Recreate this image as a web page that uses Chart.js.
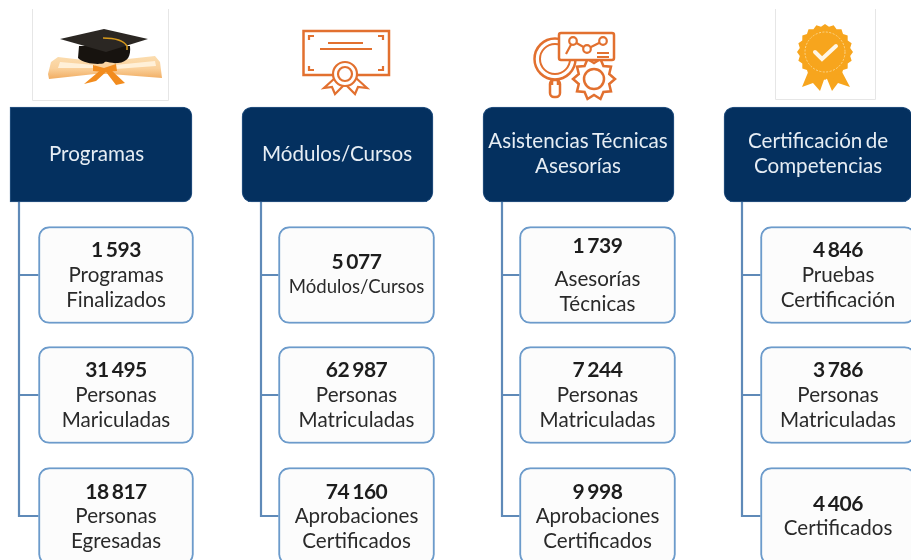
<!DOCTYPE html>
<html>
<head>
<meta charset="utf-8">
<title>Programas y certificaciones</title>
<script src="https://cdn.jsdelivr.net/npm/chart.js@4"></script>
<style>
    html, body { margin: 0; padding: 0; background: #ffffff; }
    #wrap { width: 911px; height: 560px; overflow: hidden; }
    #board { filter: blur(0.4px); }
</style>
</head>
<body>
<div id="wrap"><canvas id="board" width="911" height="560"></canvas></div>
<script>
// Chart data
const categories = [
    ['Programas'],
    ['Módulos/Cursos'],
    ['Asistencias Técnicas', 'Asesorías'],
    ['Certificación de', 'Competencias']
];
const programasValues = [1593, 31495, 18817];
const modulosValues = [5077, 62987, 74160];
const asistenciasValues = [1739, 7244, 9998];
const certificacionValues = [4846, 3786, 4406];
const programasLabels = [['Programas', 'Finalizados'], ['Personas', 'Mariculadas'], ['Personas', 'Egresadas']];
const modulosLabels = [['Módulos/Cursos'], ['Personas', 'Matriculadas'], ['Aprobaciones', 'Certificados']];
const asistenciasLabels = [['Asesorías', 'Técnicas'], ['Personas', 'Matriculadas'], ['Aprobaciones', 'Certificados']];
const certificacionLabels = [['Pruebas', 'Certificación'], ['Personas', 'Matriculadas'], ['Certificados']];

const allValues = [programasValues, modulosValues, asistenciasValues, certificacionValues];
const allLabels = [programasLabels, modulosLabels, asistenciasLabels, certificacionLabels];

// Layout of the board, in axis units (the axes run 0-911 and 0-560)
const columns = [
    { left: 10, right: 192, textX: 96.5, cardLeft: 38.5, cardRight: 193.5, trunk: 19 },
    { left: 242, right: 433, textX: 337, cardLeft: 278.5, cardRight: 434.5, trunk: 261 },
    { left: 483, right: 674, textX: 578, cardLeft: 519.5, cardRight: 675.5, trunk: 502 },
    { left: 724, right: 912, textX: 818, cardLeft: 760.5, cardRight: 915.5, trunk: 742 }
];
const headerTop = 107;
const headerBottom = 202;
const cardRows = [[226.5, 323.5], [346.5, 443.5], [467.5, 565]];

const FONT = 'Lato, "Open Sans", sans-serif';
const NAVY = '#04305f';
const CARD_BORDER = '#6c9bcb';
const TRUNK = '#5f8ab8';
const ORANGE = '#e2702f';
const AMBER = '#f7a51d';

function formatNumber(n) {
    return String(n).replace(/\B(?=(\d{3})+$)/g, ' ');
}

// Connector: trunk with one branch per card
function connectorPoints(col) {
    const pts = [{ x: col.trunk, y: headerBottom }];
    cardRows.forEach(r => {
        const mid = Math.round((r[0] + r[1]) / 2);
        pts.push({ x: col.trunk, y: mid }, { x: col.cardLeft, y: mid }, { x: col.trunk, y: mid });
    });
    return pts;
}

const datasets = [];
columns.forEach((col, i) => {
    datasets.push({
        type: 'line',
        data: connectorPoints(col),
        borderColor: TRUNK,
        borderWidth: 2.2,
        borderJoinStyle: 'miter',
        pointRadius: 0,
        tension: 0,
        fill: false,
        order: 3
    });
    datasets.push({
        type: 'bar',
        role: 'header',
        column: i,
        data: [{ x: (col.left + col.right) / 2, y: [headerTop, headerBottom] }],
        barThickness: col.right - col.left,
        backgroundColor: NAVY,
        borderColor: '#2b5685',
        borderWidth: 1,
        borderSkipped: false,
        borderRadius: i === 0 ? { topLeft: 0, bottomLeft: 0, topRight: 9, bottomRight: 9 } : 10,
        grouped: false,
        order: 2
    });
    datasets.push({
        type: 'bar',
        role: 'cards',
        column: i,
        data: cardRows.map(r => ({ x: (col.cardLeft + col.cardRight) / 2, y: r })),
        barThickness: col.cardRight - col.cardLeft,
        backgroundColor: '#fcfcfc',
        borderColor: CARD_BORDER,
        borderWidth: 2,
        borderSkipped: false,
        borderRadius: 11,
        grouped: false,
        order: 1
    });
});

// Writes header and card text on top of the bars
const boardText = {
    id: 'boardText',
    afterDatasetsDraw(chart) {
        const ctx = chart.ctx;
        const yScale = chart.scales.y;
        const xScale = chart.scales.x;
        ctx.save();
        ctx.textAlign = 'center';
        ctx.textBaseline = 'middle';
        chart.data.datasets.forEach((ds, d) => {
            if (ds.role === 'header') {
                const lines = categories[ds.column];
                const cy = yScale.getPixelForValue(154);
                const cx = xScale.getPixelForValue(columns[ds.column].textX);
                ctx.fillStyle = '#e6edf4';
                ctx.font = '20.6px ' + FONT;
                ctx.wordSpacing = '-2px';
                lines.forEach((line, n) => {
                    ctx.fillText(line, cx, cy + (n - (lines.length - 1) / 2) * 25);
                });
                ctx.wordSpacing = '0px';
            }
            if (ds.role === 'cards') {
                chart.getDatasetMeta(d).data.forEach((bar, j) => {
                    const cy = (bar.y + bar.base) / 2;
                    const lines = allLabels[ds.column][j];
                    // the first Asesorías card sits a bit lower than the others
                    const spaced = ds.column === 2 && j === 0;
                    const numberY = spaced ? cy - 29 : (lines.length === 1 ? cy - 12.5 : cy - 24.5);
                    ctx.fillStyle = '#1d1d1d';
                    ctx.font = 'bold 21px ' + FONT;
                    ctx.letterSpacing = '-0.5px';
                    ctx.wordSpacing = '-1.5px';
                    ctx.fillText(formatNumber(allValues[ds.column][j]), bar.x, numberY);
                    ctx.letterSpacing = '0px';
                    ctx.wordSpacing = '0px';
                    ctx.fillStyle = '#2a2a2a';
                    lines.forEach((line, n) => {
                        const y = spaced ? cy + 4 + n * 25 : (lines.length === 1 ? cy + 12 : cy + n * 25);
                        // this longer label is set narrower in the original
                        ctx.font = (line === 'Módulos/Cursos' ? '18.6px ' : '20.6px ') + FONT;
                        ctx.fillText(line, bar.x, y);
                    });
                });
            }
        });
        ctx.restore();
    }
};

// Icons above the headers
function frame(ctx, l, t, r, b) {
    ctx.strokeStyle = '#e6e6e6';
    ctx.lineWidth = 1;
    ctx.beginPath();
    ctx.moveTo(l, t);
    ctx.lineTo(l, b);
    ctx.lineTo(r, b);
    ctx.lineTo(r, t);
    ctx.stroke();
}

function poly(ctx, pts) {
    ctx.beginPath();
    pts.forEach((p, i) => (i ? ctx.lineTo(p[0], p[1]) : ctx.moveTo(p[0], p[1])));
    ctx.closePath();
}

function drawHat(ctx) {
    frame(ctx, 32.5, 9, 168.5, 100.5);
    // scroll
    const g = ctx.createLinearGradient(0, 57, 0, 80);
    g.addColorStop(0, '#fbdcae');
    g.addColorStop(0.5, '#fad09a');
    g.addColorStop(1, '#f0a95c');
    ctx.fillStyle = g;
    poly(ctx, [[58, 57], [100, 62], [155, 56], [160, 62], [162, 78], [110, 74], [95, 74], [49, 79], [48, 74], [51, 62]]);
    ctx.fill();
    ctx.fillStyle = '#fff0d8';
    poly(ctx, [[60, 62], [95, 65], [95, 68], [58, 68]]);
    ctx.fill();
    poly(ctx, [[115, 65], [155, 61], [156, 66], [115, 69]]);
    ctx.fill();
    // ribbon
    ctx.fillStyle = '#f28c1e';
    poly(ctx, [[103, 68], [84, 84], [96, 81], [106, 72], [116, 85], [125, 83], [109, 68]]);
    ctx.fill();
    poly(ctx, [[93, 65], [104, 68], [116, 64], [117, 71], [104, 72], [93, 71]]);
    ctx.fill();
    // cap body
    ctx.fillStyle = '#17130f';
    ctx.beginPath();
    ctx.moveTo(79, 46);
    ctx.lineTo(130, 46);
    ctx.bezierCurveTo(131, 56, 128, 62, 118, 63);
    ctx.bezierCurveTo(110, 64, 106, 60, 104, 63);
    ctx.bezierCurveTo(100, 65, 84, 64, 78, 58);
    ctx.closePath();
    ctx.fill();
    // mortarboard
    ctx.fillStyle = '#2b2723';
    poly(ctx, [[60, 39], [104, 29], [148, 39], [106, 52]]);
    ctx.fill();
    // tassel
    ctx.strokeStyle = '#d79a1c';
    ctx.lineWidth = 1.5;
    ctx.beginPath();
    ctx.moveTo(103, 38);
    ctx.quadraticCurveTo(122, 38, 127, 46);
    ctx.lineTo(127, 50);
    ctx.stroke();
}

function drawCertificate(ctx) {
    ctx.strokeStyle = ORANGE;
    ctx.lineWidth = 2.5;
    ctx.strokeRect(303.5, 31, 85.5, 44);
    ctx.lineWidth = 2.2;
    [[328, 363, 43], [320, 372, 49]].forEach(l => {
        ctx.beginPath();
        ctx.moveTo(l[0], l[2]);
        ctx.lineTo(l[1], l[2]);
        ctx.stroke();
    });
    // corner marks
    [[309, 40, 1, -1], [383, 40, -1, -1], [309, 66, 1, 1], [383, 66, -1, 1]].forEach(c => {
        ctx.beginPath();
        ctx.moveTo(c[0] + c[2] * 5, c[1] + c[3] * 4);
        ctx.lineTo(c[0], c[1] + c[3] * 4);
        ctx.lineTo(c[0], c[1]);
        ctx.stroke();
    });
    // ribbons and seal
    ctx.fillStyle = '#ffffff';
    poly(ctx, [[335, 78], [324, 88], [332, 87], [335, 94], [345, 84], [355, 94], [358, 87], [367, 88], [356, 78]]);
    ctx.fill();
    ctx.stroke();
    ctx.beginPath();
    ctx.arc(345, 74, 12, 0, Math.PI * 2);
    ctx.fill();
    ctx.stroke();
    ctx.beginPath();
    ctx.arc(345, 74, 7, 0, Math.PI * 2);
    ctx.stroke();
}

function drawAnalysis(ctx) {
    ctx.strokeStyle = ORANGE;
    ctx.fillStyle = '#ffffff';
    ctx.lineWidth = 2.5;
    // magnifier
    ctx.beginPath();
    ctx.arc(555, 59, 20.5, 0, Math.PI * 2);
    ctx.stroke();
    ctx.lineWidth = 2;
    ctx.beginPath();
    ctx.arc(555, 59, 15, 0, Math.PI * 2);
    ctx.stroke();
    ctx.lineWidth = 2.5;
    ctx.beginPath();
    ctx.roundRect(550, 80, 10, 17, 4);
    ctx.stroke();
    ctx.beginPath();
    ctx.moveTo(552, 79);
    ctx.lineTo(552, 85);
    ctx.moveTo(558, 79);
    ctx.lineTo(558, 85);
    ctx.stroke();
    // gear
    ctx.beginPath();
    for (let t = 0; t < 20; t++) {
        const a = t * Math.PI / 10;
        const r = t % 2 ? 16 : 21;
        ctx.lineTo(594 + Math.cos(a) * r, 79 + Math.sin(a) * r);
    }
    ctx.closePath();
    ctx.fill();
    ctx.stroke();
    ctx.beginPath();
    ctx.arc(594, 79, 10, 0, Math.PI * 2);
    ctx.stroke();
    // panel with line graph
    ctx.beginPath();
    ctx.roundRect(559, 33, 55, 27, 2);
    ctx.fill();
    ctx.stroke();
    ctx.lineWidth = 2.2;
    ctx.beginPath();
    ctx.moveTo(566, 54);
    ctx.lineTo(573, 41);
    ctx.lineTo(587, 49);
    ctx.lineTo(603, 41);
    ctx.stroke();
    [[573, 41], [587, 49], [603, 41]].forEach(p => {
        ctx.beginPath();
        ctx.arc(p[0], p[1], 3.8, 0, Math.PI * 2);
        ctx.fill();
        ctx.stroke();
    });
    ctx.lineWidth = 2;
    ctx.beginPath();
    ctx.moveTo(597, 53);
    ctx.lineTo(609, 53);
    ctx.moveTo(597, 57);
    ctx.lineTo(609, 57);
    ctx.stroke();
}

function drawRosette(ctx) {
    frame(ctx, 775.5, 9, 875.5, 99.5);
    const cx = 825, cy = 52;
    ctx.fillStyle = AMBER;
    poly(ctx, [[809, 70], [802, 87], [813, 83], [820, 91], [826, 74]]);
    ctx.fill();
    poly(ctx, [[841, 70], [850, 87], [838, 83], [832, 91], [825, 74]]);
    ctx.fill();
    ctx.beginPath();
    for (let t = 0; t < 40; t++) {
        const a = t * Math.PI / 20;
        const r = t % 2 ? 25.5 : 28;
        ctx.lineTo(cx + Math.cos(a) * r, cy + Math.sin(a) * r);
    }
    ctx.closePath();
    ctx.fill();
    ctx.strokeStyle = '#fbd58a';
    ctx.lineWidth = 1;
    ctx.setLineDash([2, 1.5]);
    ctx.beginPath();
    ctx.arc(cx, cy, 20, 0, Math.PI * 2);
    ctx.stroke();
    ctx.setLineDash([]);
    ctx.strokeStyle = '#fff6e6';
    ctx.lineWidth = 4;
    ctx.lineCap = 'round';
    ctx.beginPath();
    ctx.moveTo(815, 52);
    ctx.lineTo(822, 59);
    ctx.lineTo(836, 46);
    ctx.stroke();
    ctx.lineCap = 'butt';
}

const boardIcons = {
    id: 'boardIcons',
    beforeDatasetsDraw(chart) {
        const ctx = chart.ctx;
        ctx.save();
        drawHat(ctx);
        drawCertificate(ctx);
        drawAnalysis(ctx);
        drawRosette(ctx);
        ctx.restore();
    }
};

new Chart(document.getElementById('board'), {
    data: { datasets: datasets },
    plugins: [boardIcons, boardText],
    options: {
        responsive: false,
        animation: false,
        layout: { padding: 0 },
        plugins: {
            legend: { display: false },
            tooltip: { enabled: false }
        },
        scales: {
            x: { type: 'linear', min: 0, max: 911, display: false, offset: false },
            y: { type: 'linear', min: 0, max: 560, reverse: true, display: false }
        }
    }
});
</script>
</body>
</html>
